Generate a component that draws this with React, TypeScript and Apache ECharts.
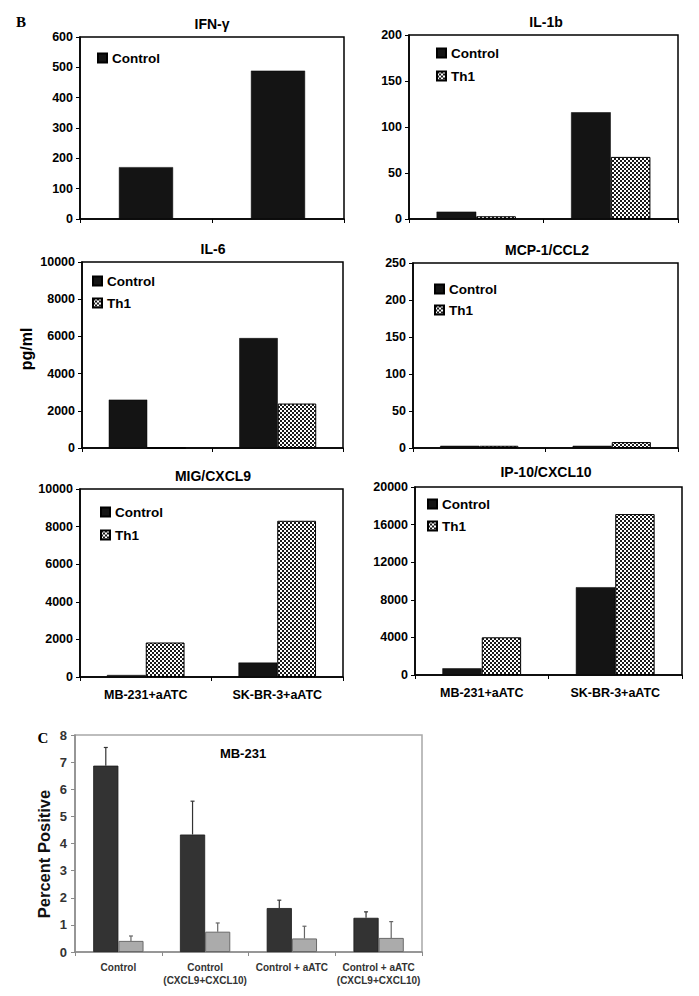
import React, { useEffect, useRef } from "react";
import * as echarts from "echarts";

const FONT = "'Liberation Sans', Arial, Helvetica, sans-serif";

// Panel B data
const cellLines = ["MB-231+aATC", "SK-BR-3+aATC"];
const ifnControl = [171, 489];
const il1bControl = [8, 116];
const il1bTh1 = [3, 67.5];
const il6Control = [2600, 5910];
const il6Th1 = [0, 2390];
const mcpControl = [3, 3];
const mcpTh1 = [3, 8];
const migControl = [107, 765];
const migTh1 = [1835, 8310];
const ipControl = [710, 9340];
const ipTh1 = [4010, 17120];

// Panel C data
const cCategories = [
  "Control",
  "Control\n(CXCL9+CXCL10)",
  "Control + aATC",
  "Control + aATC\n(CXCL9+CXCL10)",
];
const cDark = [6.87, 4.33, 1.62, 1.26];
const cDarkErr = [0.67, 1.23, 0.29, 0.22];
const cLight = [0.41, 0.75, 0.5, 0.52];
const cLightErr = [0.18, 0.32, 0.45, 0.6];

function makePattern(): HTMLCanvasElement {
  const c = document.createElement("canvas");
  c.width = 4;
  c.height = 4;
  const ctx = c.getContext("2d")!;
  ctx.fillStyle = "#ffffff";
  ctx.fillRect(0, 0, 4, 4);
  ctx.fillStyle = "#1a1a1a";
  ctx.fillRect(0, 0, 2, 2);
  ctx.fillRect(2, 2, 2, 2);
  return c;
}

export default function App() {
  const ref = useRef<HTMLDivElement>(null);

  useEffect(() => {
    if (!ref.current) return;
    const chart = echarts.init(ref.current, null, { renderer: "svg" });
    const pattern = { image: makePattern(), repeat: "repeat" } as any;
    const plain = (v: number) => String(v);

    const grids: any[] = [
      { left: 80, top: 37, width: 264, height: 182 },
      { left: 409, top: 35, width: 269, height: 184 },
      { left: 82, top: 262, width: 261, height: 186 },
      { left: 413, top: 263, width: 265, height: 185 },
      { left: 80, top: 489, width: 263, height: 188 },
      { left: 415, top: 487, width: 267, height: 188 },
    ].map((g) => ({
      ...g,
      show: true,
      borderColor: "#000",
      borderWidth: 1.5,
      containLabel: false,
    }));
    grids.push({
      left: 75,
      top: 735,
      width: 347,
      height: 217,
      show: true,
      borderColor: "#a8a8a8",
      borderWidth: 1.5,
      containLabel: false,
    });

    const yCfg = [
      { max: 600, interval: 100 },
      { max: 200, interval: 50 },
      { max: 10000, interval: 2000 },
      { max: 250, interval: 50 },
      { max: 10000, interval: 2000 },
      { max: 20000, interval: 4000 },
    ];

    const xAxes: any[] = yCfg.map((_, i) => ({
      type: "category",
      gridIndex: i,
      data: cellLines,
      axisLine: { show: true, lineStyle: { color: "#000", width: 1.5 } },
      axisTick: { show: true, length: 4, lineStyle: { color: "#000", width: 1 } },
      axisLabel: {
        show: i >= 4,
        color: "#000",
        fontWeight: "bold",
        fontSize: 12.5,
        fontFamily: FONT,
        margin: 11,
      },
    }));
    xAxes.push({
      type: "category",
      gridIndex: 6,
      data: cCategories,
      axisLine: { show: true, lineStyle: { color: "#8a8a8a", width: 1.5 } },
      axisTick: { show: true, length: 4, lineStyle: { color: "#8a8a8a", width: 1 } },
      axisLabel: {
        color: "#333",
        fontWeight: "bold",
        fontSize: 10,
        fontFamily: FONT,
        margin: 9,
        lineHeight: 13,
        interval: 0,
      },
    });

    const yAxes: any[] = yCfg.map((c, i) => ({
      type: "value",
      gridIndex: i,
      min: 0,
      max: c.max,
      interval: c.interval,
      splitLine: { show: false },
      axisLine: { show: true, lineStyle: { color: "#000", width: 1.5 } },
      axisTick: { show: true, length: 4, lineStyle: { color: "#000", width: 1 } },
      axisLabel: {
        color: "#000",
        fontWeight: "bold",
        fontSize: 12.5,
        fontFamily: FONT,
        margin: 7,
        formatter: plain,
      },
    }));
    yAxes.push({
      type: "value",
      gridIndex: 6,
      min: 0,
      max: 8,
      interval: 1,
      splitLine: { show: false },
      axisLine: { show: true, lineStyle: { color: "#8a8a8a", width: 1.5 } },
      axisTick: { show: true, length: 4, lineStyle: { color: "#8a8a8a", width: 1 } },
      axisLabel: {
        color: "#333",
        fontWeight: "bold",
        fontSize: 13,
        fontFamily: FONT,
        margin: 8,
        formatter: plain,
      },
    });

    const ctrlStyle = { color: "#141414", borderColor: "#000", borderWidth: 0.5 };
    const th1Style = { color: pattern, borderColor: "#000", borderWidth: 1 };

    const barW = "29.5%";
    const mkBar = (name: string, data: number[], idx: number, style: any, width = barW) => ({
      type: "bar",
      name,
      xAxisIndex: idx,
      yAxisIndex: idx,
      data,
      barWidth: width,
      barGap: "0%",
      itemStyle: style,
      emphasis: { disabled: true },
    });

    const series: any[] = [
      mkBar("Control", ifnControl, 0, ctrlStyle, "41%"),
      mkBar("Control", il1bControl, 1, ctrlStyle),
      mkBar("Th1", il1bTh1, 1, th1Style),
      mkBar("Control", il6Control, 2, ctrlStyle),
      mkBar("Th1", il6Th1, 2, th1Style),
      mkBar("Control", mcpControl, 3, ctrlStyle),
      mkBar("Th1", mcpTh1, 3, th1Style),
      mkBar("Control", migControl, 4, ctrlStyle),
      mkBar("Th1", migTh1, 4, th1Style),
      mkBar("Control", ipControl, 5, ctrlStyle),
      mkBar("Th1", ipTh1, 5, th1Style),
      mkBar("MB-231 dark", cDark, 6, { color: "#333333", borderColor: "#1a1a1a", borderWidth: 0.8 }, "29%"),
      mkBar("MB-231 light", cLight, 6, { color: "#ababab", borderColor: "#6a6a6a", borderWidth: 1 }, "29%"),
    ];

    const errData = [
      ...cDark.map((v, i) => [i, v, cDarkErr[i], -1]),
      ...cLight.map((v, i) => [i, v, cLightErr[i], 1]),
    ];
    series.push({
      type: "custom",
      name: "errors",
      xAxisIndex: 6,
      yAxisIndex: 6,
      z: 5,
      data: errData,
      encode: { x: 0, y: 1 },
      renderItem: (params: any, api: any) => {
        const idx = api.value(0);
        const val = api.value(1);
        const err = api.value(2);
        const sign = api.value(3);
        const base = api.coord([idx, val]);
        const top = api.coord([idx, val + err]);
        const band = api.size([1, 0])[0];
        const bw = band * 0.29;
        const x = base[0] + (sign * bw) / 2;
        const color = sign < 0 ? "#333" : "#666";
        return {
          type: "group",
          children: [
            {
              type: "line",
              shape: { x1: x, y1: base[1], x2: x, y2: top[1] },
              style: { stroke: color, lineWidth: 1.2 },
            },
            {
              type: "line",
              shape: { x1: x - 2, y1: top[1], x2: x + 2, y2: top[1] },
              style: { stroke: color, lineWidth: 1.2 },
            },
          ],
        };
      },
    });

    const legendBase = {
      orient: "vertical",
      itemWidth: 9,
      itemHeight: 9,
      itemGap: 9,
      icon: "rect",
      selectedMode: false,
      padding: 0,
      textStyle: {
        color: "#000",
        fontWeight: "bold",
        fontSize: 13.5,
        fontFamily: FONT,
        lineHeight: 14,
      },
    };
    const legends = [
      { left: 97, top: 51, data: ["Control"] },
      { left: 436, top: 46, data: ["Control", "Th1"] },
      { left: 92, top: 274, data: ["Control", "Th1"], itemGap: 8 },
      { left: 434, top: 282, data: ["Control", "Th1"], itemGap: 7 },
      { left: 100, top: 505, data: ["Control", "Th1"] },
      { left: 427, top: 497, data: ["Control", "Th1"], itemGap: 8 },
    ].map((l) => ({ ...legendBase, ...l }));

    const titleText = (text: string, x: number, y: number, size = 14) => ({
      type: "text",
      x,
      y,
      style: {
        text,
        fill: "#000",
        font: `bold ${size}px ${FONT}`,
        textAlign: "center",
        textVerticalAlign: "middle",
      },
    });

    const graphics: any[] = [
      {
        type: "text",
        x: 21,
        y: 22,
        style: {
          text: "B",
          fill: "#000",
          font: "bold 15px 'Liberation Serif', 'Times New Roman', serif",
          textAlign: "center",
          textVerticalAlign: "middle",
        },
      },
      {
        type: "text",
        x: 43,
        y: 738,
        style: {
          text: "C",
          fill: "#000",
          font: "bold 15px 'Liberation Serif', 'Times New Roman', serif",
          textAlign: "center",
          textVerticalAlign: "middle",
        },
      },
      titleText("IFN-γ", 212, 24),
      titleText("IL-1b", 546, 22),
      titleText("IL-6", 213, 249),
      titleText("MCP-1/CCL2", 547, 250),
      titleText("MIG/CXCL9", 213, 476),
      titleText("IP-10/CXCL10", 546, 472),
      titleText("MB-231", 243, 753, 13),
      {
        type: "text",
        x: 26,
        y: 349,
        rotation: Math.PI / 2,
        style: {
          text: "pg/ml",
          fill: "#000",
          font: `bold 16px ${FONT}`,
          textAlign: "center",
          textVerticalAlign: "middle",
        },
      },
      {
        type: "text",
        x: 44,
        y: 854,
        rotation: Math.PI / 2,
        style: {
          text: "Percent Positive",
          fill: "#111",
          font: `bold 16.5px ${FONT}`,
          textAlign: "center",
          textVerticalAlign: "middle",
        },
      },
    ];

    chart.setOption({
      animation: false,
      backgroundColor: "#fff",
      grid: grids,
      xAxis: xAxes,
      yAxis: yAxes,
      legend: legends,
      series,
      graphic: graphics,
    });

    return () => {
      chart.dispose();
    };
  }, []);

  return (
    <div
      ref={ref}
      style={{ position: "absolute", left: 0, top: 0, width: 699, height: 996 }}
    />
  );
}
